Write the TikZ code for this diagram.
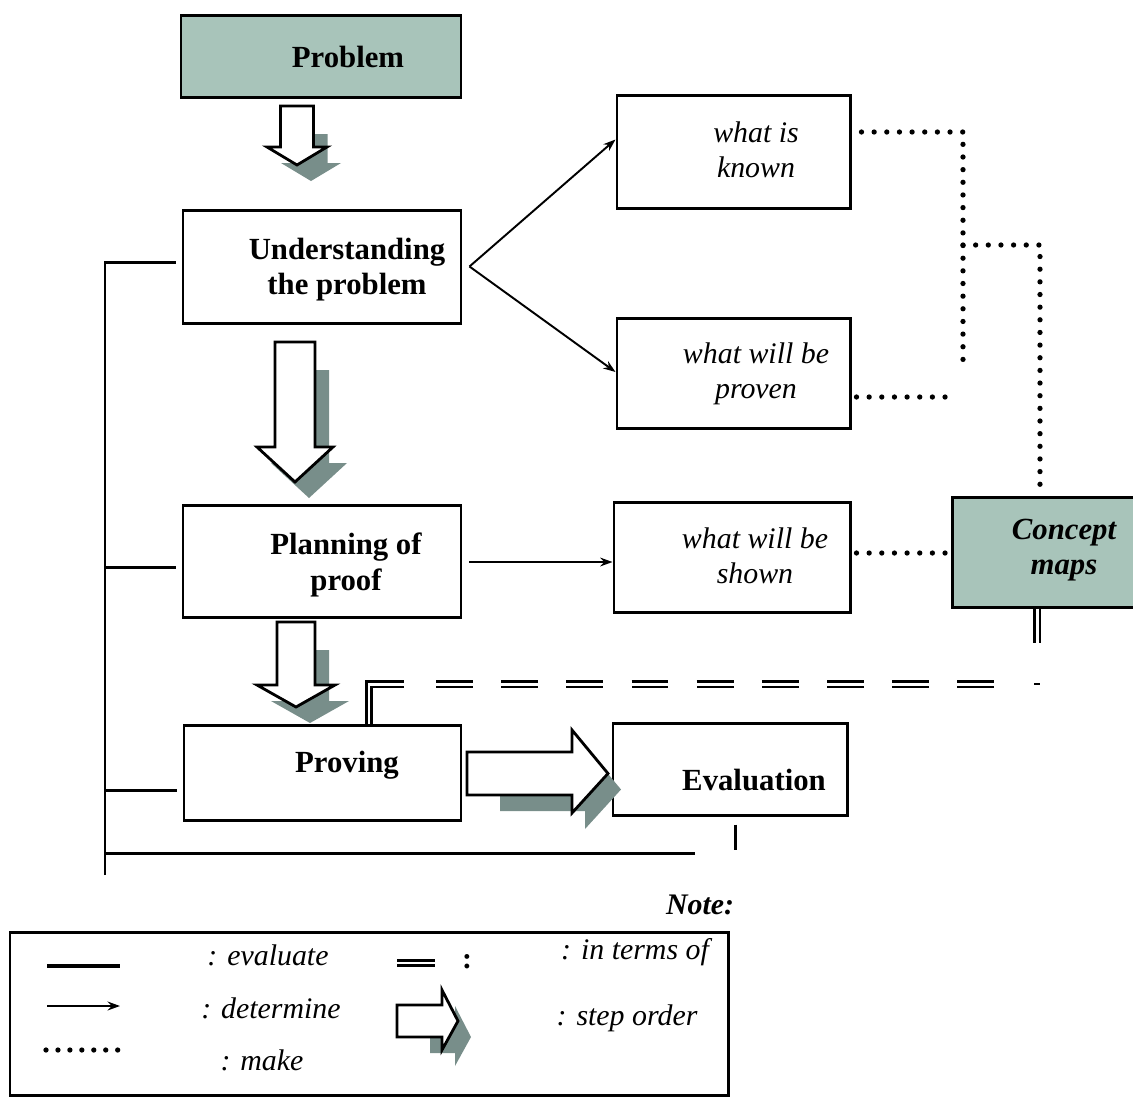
\documentclass[tikz,border=0pt]{standalone}
\usepackage{fontspec}
\setmainfont{Liberation Serif}
\usetikzlibrary{arrows.meta,fit}
\definecolor{tealfill}{RGB}{168,196,186}
\definecolor{shadowc}{RGB}{120,142,138}
\newcommand{\BlkDown}[7]{% name, cx, halfshaft, top, headstart, halfwing, tip
  \fill[shadowc,shift={(14,16)}] (#2-#3,#4+12) -- (#2+#3,#4+12) -- (#2+#3,#5) -- (#2+#6,#5) -- (#2,#7) -- (#2-#6,#5) -- (#2-#3,#5) -- cycle;
  \draw[blkarrow] (#2-#3,#4) -- (#2+#3,#4) -- (#2+#3,#5) -- (#2+#6,#5) -- (#2,#7) -- (#2-#6,#5) -- (#2-#3,#5) -- cycle;
  \coordinate (#1) at (#2,#7);}
\newcommand{\BlkRight}[8]{% name, left, top, bottom, headstart, headtop, headbottom, tipx
  \fill[shadowc,shift={(13,16)}] (#2+20,#3) -- (#5,#3) -- (#5,#6) -- (#8,{(#3+#4)/2}) -- (#5,#7) -- (#5,#4) -- (#2+20,#4) -- cycle;
  \draw[blkarrow] (#2,#3) -- (#5,#3) -- (#5,#6) -- (#8,{(#3+#4)/2}) -- (#5,#7) -- (#5,#4) -- (#2,#4) -- cycle;
  \coordinate (#1) at (#8,{(#3+#4)/2});}
\begin{document}
\begin{tikzpicture}[x=0.02cm,y=-0.02cm,
  box/.style={draw, line width=1.7pt, rectangle, inner sep=0pt},
  tealbox/.style={box, fill=tealfill},
  btxt/.style={font=\fontsize{17.5}{20}\selectfont\bfseries, align=center, inner sep=0pt},
  itxt/.style={font=\fontsize{17}{20}\selectfont\itshape, align=center, inner sep=0pt},
  bitxt/.style={font=\fontsize{17.5}{20}\selectfont\bfseries\itshape, align=center, inner sep=0pt},
  ltxt/.style={font=\fontsize{17}{20}\selectfont\itshape, inner sep=0pt},
  blkarrow/.style={draw, fill=white, line width=1.6pt, line join=miter},
  detarrow/.style={line width=1.1pt, -{Stealth[length=7pt,width=5pt]}},
  evalline/.style={line width=1.7pt},
  dotline/.style={line width=3pt, line cap=round, dash pattern=on 0pt off 7.2pt},
  dbl/.style={double, double distance=1.7pt, line width=1.2pt},
  dbldash/.style={dbl, dash pattern=on 21pt off 16.1pt},
]
\useasboundingbox (0,0) rectangle (1133,1100);
\clip (0,0) rectangle (1133,1100);

% ---------- boxes ----------
\node[tealbox, fit={(181,15) (461,97)}] (prob) {};
\node[btxt] (probT) at (348,57) {Problem};

\node[box, fit={(183,210) (461,323)}] (und) {};
\node[btxt] (undT) at (347,270) {Understanding\\the problem};

\node[box, fit={(183,505) (461,617)}] (plan) {};
\node[btxt] (planT) at (346,565) {Planning of\\proof};

\node[box, fit={(184,725) (461,820)}] (prov) {};
\node[btxt] (provT) at (347,765) {Proving};

\node[box, fit={(613,723) (847,815)}] (eval) {};
\node[btxt] (evalT) at (754,780) {Evaluation};

\node[box, fit={(617,95) (850,208)}] (known) {};
\node[itxt] (knownT) at (756,150) {what is\\known};

\node[box, fit={(617,318) (850,428)}] (prov2) {};
\node[itxt] (prov2T) at (756,374) {what will be\\proven};

\node[box, fit={(614,502) (850,612)}] (shown) {};
\node[itxt] (shownT) at (755,556) {what will be\\shown};

\node[tealbox, fit={(952,497) (1145,607)}] (cmap) {};
\node[bitxt] (cmapT) at (1064,550) {Concept\\maps};

% ---------- step-order block arrows ----------
\BlkDown{a1}{297}{16.5}{106}{147}{30}{165}
\BlkDown{a2}{295}{20}{342}{447}{38}{482}
\BlkDown{a3}{296}{19}{622}{685}{39}{707}
\BlkRight{a4}{467}{752}{795}{572}{730}{813}{608}

% ---------- determine arrows ----------
\draw[detarrow] ([shift={(7,0)}]und.east) -- ([shift={(0,-12)}]known.west);
\draw[detarrow] ([shift={(7,0)}]und.east) -- ([shift={(0,-1)}]prov2.west);
\draw[detarrow] ([shift={(7,0)}]plan.east |- 0,562) -- (shown.west |- 0,562);

% ---------- make (dotted) ----------
\coordinate (k1) at (963,132);
\coordinate (k2) at (963,363);
\coordinate (j1) at (963,245);
\coordinate (j2) at (1040,245);
\coordinate (p1) at (957,397);
\draw[dotline] ([shift={(10,0)}]known.east |- k1) -- (k1) -- (k2);
\draw[dotline] (j1) -- (j2) -- (cmap.north -| j2);
\draw[dotline] ([shift={(5,0)}]prov2.east |- p1) -- (p1);
\draw[dotline] ([shift={(5,0)}]shown.east |- 0,553) -- (cmap.west |- 0,553);

% ---------- in terms of (double) ----------
\coordinate (c1) at (1037,643);
\coordinate (c2) at (1037,684);
\coordinate (h0) at (369,684);
\coordinate (h1) at (404,684);
\coordinate (h2) at (436,684);
\coordinate (h3) at (995,684);
\draw[dbl] (cmap.south -| c1) -- (c1);
\draw[line width=1.3pt] ([shift={(-3,0)}]c2) -- ([shift={(3,0)}]c2);
\draw[dbldash] (h2) -- (h3);
\draw[dbl, line join=miter] (prov.north -| h0) -- (h0) -- (h1);

% ---------- evaluate lines ----------
\coordinate (l0) at (105,262);
\coordinate (l3) at (105,875);
\coordinate (lb) at (105,853);
\draw[evalline] (l3) -- (l0) -- ([shift={(-6,0)}]und.west |- l0);
\draw[evalline] (lb |- 0,567) -- ([shift={(-6,0)}]plan.west |- 0,567);
\draw[evalline] (lb |- 0,790) -- ([shift={(-6,0)}]prov.west |- 0,790);
\draw[evalline] (lb) -- (695,853);
\draw[evalline] ([shift={(0,8)}]eval.south -| 735,0) -- (735,850);

% ---------- legend ----------
\node[font=\fontsize{17}{20}\selectfont\bfseries\itshape, inner sep=0pt] (note) at (700,905) {Note:};
\node[draw, line width=1.7pt, fit={(10,932) (728,1095)}, inner sep=0pt] (leg) {};
\coordinate (g1a) at (47,966); \coordinate (g1b) at (120,966);
\coordinate (g2a) at (47,1006); \coordinate (g2b) at (120,1006);
\coordinate (g3a) at (46,1050); \coordinate (g3b) at (120,1050);
\draw[evalline, line width=2pt] (g1a) -- (g1b);
\draw[detarrow, line width=1.4pt] (g2a) -- (g2b);
\draw[dotline, dash pattern=on 0pt off 6.8pt] (g3a) -- (g3b);
\node[ltxt] (t1) at (268,955) {: evaluate};
\node[ltxt] (t2) at (271,1008) {: determine};
\node[ltxt] (t3) at (262,1060) {: make};
\coordinate (e1) at (397,963); \coordinate (e2) at (435,963);
\draw[dbl, line width=1.6pt, double distance=1.5pt] (e1) -- (e2);
\node[font=\fontsize{17}{20}\selectfont\bfseries, inner sep=0pt] (colon) at (467,962) {:};
\node[ltxt] (t4) at (635,952) {: in terms of};
\node[ltxt] (t5) at (627,1018) {: step order};
\BlkRight{a5}{397}{1005}{1037}{442}{990}{1050}{458}
\end{tikzpicture}
\end{document}
